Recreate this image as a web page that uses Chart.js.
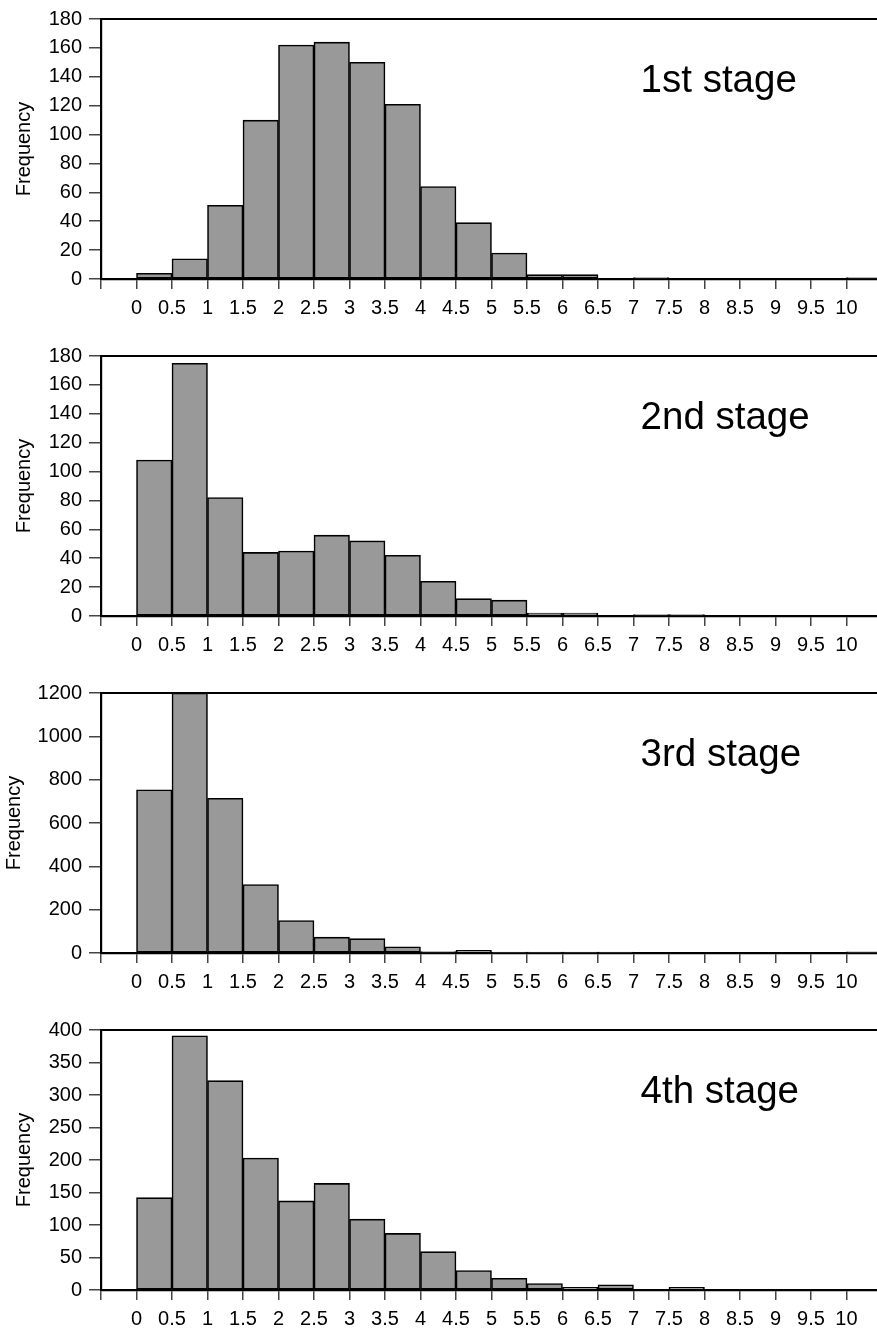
<!DOCTYPE html>
<html>
<head>
<meta charset="utf-8">
<script src="https://cdn.jsdelivr.net/npm/chart.js@4"></script>
<style>
  html, body { margin: 0; padding: 0; background: #fff; overflow: hidden; }
  canvas { display: block; }
</style>
</head>
<body>
<div id="charts"></div>
<script>
// bins of width 0.5, starting at these values
const binStarts = [0, 0.5, 1, 1.5, 2, 2.5, 3, 3.5, 4, 4.5, 5, 5.5, 6, 6.5, 7, 7.5, 8, 8.5, 9, 9.5, 10];
const binWidth = 0.5;

const stageNames = ['1st stage', '2nd stage', '3rd stage', '4th stage'];

const stage1 = [4, 14, 51, 110, 162, 164, 150, 121, 64, 39, 18, 3, 3, 0, 1, 0, 0, 0, 0, 0, 1];
const stage2 = [108, 175, 82, 44, 45, 56, 52, 42, 24, 12, 11, 2, 2, 0, 1, 1, 0, 0, 0, 0, 0];
const stage3 = [753, 1200, 714, 316, 150, 73, 66, 29, 7, 12, 4, 4, 4, 4, 0, 0, 0, 0, 0, 0, 5];
const stage4 = [142, 391, 322, 203, 137, 164, 109, 87, 59, 30, 18, 10, 4, 8, 0, 4, 0, 0, 0, 0, 0];

const yMax = [180, 180, 1200, 400];
const yStep = [20, 20, 200, 50];

const stages = [stage1, stage2, stage3, stage4];
const FONT = '"Liberation Sans", Arial, Helvetica, sans-serif';
const titlePad = [12, 12, 2.5, 12];

Chart.defaults.font.family = FONT;
Chart.defaults.color = '#000';

const stageLabel = {
  id: 'stageLabel',
  afterDatasetsDraw(chart, args, opts) {
    const ctx = chart.ctx;
    const area = chart.chartArea;
    ctx.save();
    ctx.font = '38.5px ' + FONT;
    ctx.fillStyle = '#000';
    ctx.textAlign = 'left';
    ctx.textBaseline = 'alphabetic';
    ctx.fillText(opts.text, chart.scales.x.getPixelForValue(7.1), area.top + area.height * 0.28);
    ctx.restore();
  }
};

stages.forEach((values, i) => {
  const canvas = document.createElement('canvas');
  canvas.width = 877;
  canvas.height = 337;
  document.getElementById('charts').appendChild(canvas);

  new Chart(canvas.getContext('2d'), {
    type: 'bar',
    data: {
      datasets: [{
        data: values.map((v, k) => ({ x: binStarts[k] + binWidth / 2, y: v })),
        backgroundColor: '#999999',
        borderColor: '#000000',
        borderWidth: 1.6,
        borderSkipped: false,
        barPercentage: 1,
        categoryPercentage: 1
      }]
    },
    options: {
      responsive: false,
      animation: false,
      devicePixelRatio: 1,
      layout: { padding: { top: 17, left: 0, right: 0, bottom: 0 } },
      plugins: {
        legend: { display: false },
        tooltip: { enabled: false },
        stageLabel: { text: stageNames[i] }
      },
      scales: {
        x: {
          type: 'linear',
          position: 'bottom',
          offset: false,
          min: -0.5,
          max: 10.43,
          afterFit: s => { s.height = 58; },
          grid: { offset: false, drawOnChartArea: false, drawTicks: true, tickLength: 10, color: '#444', lineWidth: 1.5 },
          border: { display: true, color: '#000', width: 2.2 },
          ticks: {
            stepSize: 0.5,
            includeBounds: false,
            maxRotation: 0,
            autoSkip: false,
            padding: 7,
            font: { size: 20 },
            color: '#000',
            callback: v => (v < 0 ? '' : String(v))
          }
        },
        xTop: {
          type: 'linear',
          position: 'top',
          min: -0.5,
          max: 10.43,
          grid: { display: false, drawTicks: false },
          border: { display: true, color: '#000', width: 2 },
          ticks: { display: false }
        },
        y: {
          type: 'linear',
          min: 0,
          max: yMax[i],
          afterFit: s => { s.width = 101; },
          grid: { drawOnChartArea: false, drawTicks: true, tickLength: 12, color: '#444', lineWidth: 1.5 },
          border: { display: true, color: '#000', width: 2.2 },
          title: {
            display: true,
            text: 'Frequency',
            font: { size: 20 },
            color: '#000',
            padding: { top: titlePad[i], bottom: 0 }
          },
          ticks: {
            stepSize: yStep[i],
            padding: 7,
            font: { size: 20 },
            color: '#000',
            callback: v => String(v)
          }
        }
      }
    },
    plugins: [stageLabel]
  });
});
</script>
</body>
</html>
